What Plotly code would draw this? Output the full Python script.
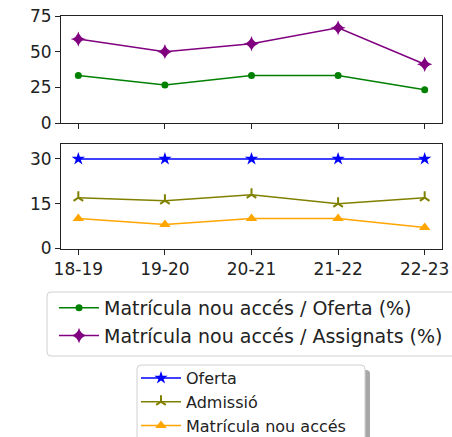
import plotly.graph_objects as go

cursos = ["18-19", "19-20", "20-21", "21-22", "22-23"]
oferta = [30, 30, 30, 30, 30]
admissio = [17, 16, 18, 15, 17]
matricula = [10, 8, 10, 10, 7]
mat_oferta_pct = [33.3, 26.7, 33.3, 33.3, 23.3]
mat_assign_pct = [58.8, 50.0, 55.6, 66.7, 41.2]

W, H = 452, 437
FONT = "DejaVu Sans"


def X(px):
    return px / W


def Y(py):
    return 1 - py / H


fig = go.Figure()

fig.add_trace(go.Scatter(x=cursos, y=mat_oferta_pct, mode="lines+markers",
                         name="Matrícula nou accés / Oferta (%)",
                         line=dict(color="green", width=1.5),
                         marker=dict(symbol="circle", size=7, color="green"),
                         xaxis="x", yaxis="y", legend="legend"))
fig.add_trace(go.Scatter(x=cursos, y=mat_assign_pct, mode="lines+markers",
                         name="Matrícula nou accés / Assignats (%)",
                         line=dict(color="purple", width=1.5),
                         marker=dict(symbol="star-diamond", size=11, color="purple"),
                         xaxis="x", yaxis="y", legend="legend"))

fig.add_trace(go.Scatter(x=cursos, y=oferta, mode="lines+markers", name="Oferta",
                         line=dict(color="blue", width=1.5),
                         marker=dict(symbol="star", size=10, color="blue"),
                         xaxis="x2", yaxis="y2", legend="legend2"))
fig.add_trace(go.Scatter(x=cursos, y=admissio, mode="lines+markers", name="Admissió",
                         line=dict(color="olive", width=1.5),
                         marker=dict(symbol="y-up", size=8, color="olive",
                                     line=dict(color="olive", width=2)),
                         xaxis="x2", yaxis="y2", legend="legend2"))
fig.add_trace(go.Scatter(x=cursos, y=matricula, mode="lines+markers", name="Matrícula nou accés",
                         line=dict(color="orange", width=1.5),
                         marker=dict(symbol="triangle-up", size=10, color="orange"),
                         xaxis="x2", yaxis="y2", legend="legend2"))

xdom = [X(61), X(442)]
axis_common = dict(showline=True, linecolor="#222", linewidth=1, mirror=True,
                   ticks="outside", ticklen=5, tickcolor="#222", showgrid=False,
                   zeroline=False, automargin=False, ticklabeloverflow="allow",
                   tickfont=dict(family=FONT, size=17, color="#222"))


def rrect(x0, y0, x1, y1, r=4):
    # rounded rectangle path in paper coordinates from pixel corners
    return (f"M {X(x0 + r)},{Y(y0)} L {X(x1 - r)},{Y(y0)} "
            f"Q {X(x1)},{Y(y0)} {X(x1)},{Y(y0 + r)} L {X(x1)},{Y(y1 - r)} "
            f"Q {X(x1)},{Y(y1)} {X(x1 - r)},{Y(y1)} L {X(x0 + r)},{Y(y1)} "
            f"Q {X(x0)},{Y(y1)} {X(x0)},{Y(y1 - r)} L {X(x0)},{Y(y0 + r)} "
            f"Q {X(x0)},{Y(y0)} {X(x0 + r)},{Y(y0)} Z")


# legend frames (matplotlib-style, rounded), with a shadow for the second one
fig.add_shape(type="path", xref="paper", yref="paper", path=rrect(47, 292, 470, 356),
              fillcolor="white", line=dict(color="#d0d0d0", width=1), layer="above")
fig.add_shape(type="path", xref="paper", yref="paper", path=rrect(142, 370, 370, 460),
              fillcolor="#a8a8a8", line=dict(width=0), layer="above")
fig.add_shape(type="path", xref="paper", yref="paper", path=rrect(137, 365, 365, 460),
              fillcolor="white", line=dict(color="#d0d0d0", width=1), layer="above")

fig.update_layout(
    width=W, height=H,
    margin=dict(l=0, r=0, t=0, b=0, autoexpand=False),
    paper_bgcolor="white", plot_bgcolor="white",
    font=dict(family=FONT, color="#222"),
    xaxis=dict(domain=xdom, anchor="y", type="category", range=[-0.2, 4.2],
               showticklabels=False, **axis_common),
    yaxis=dict(domain=[Y(123), Y(16)], anchor="x", range=[0, 75],
               tickvals=[0, 25, 50, 75], **axis_common),
    xaxis2=dict(domain=xdom, anchor="y2", type="category", range=[-0.2, 4.2],
                **axis_common),
    yaxis2=dict(domain=[Y(249), Y(144)], anchor="x2", range=[-0.2, 35],
                tickvals=[0, 15, 30], **axis_common),
    legend=dict(x=X(54), y=Y(289), xanchor="left", yanchor="top",
                bgcolor="rgba(0,0,0,0)", borderwidth=0, itemwidth=40,
                font=dict(family=FONT, size=19, color="#222")),
    legend2=dict(x=X(136), y=Y(361), xanchor="left", yanchor="top",
                 bgcolor="rgba(0,0,0,0)", borderwidth=0, itemwidth=40,
                 font=dict(family=FONT, size=16, color="#222")),
    showlegend=True,
)

fig.write_html("out.html",
               config={"displayModeBar": False},
               post_script="document.body.style.margin='0';"
                           "document.body.style.overflow='hidden';")
